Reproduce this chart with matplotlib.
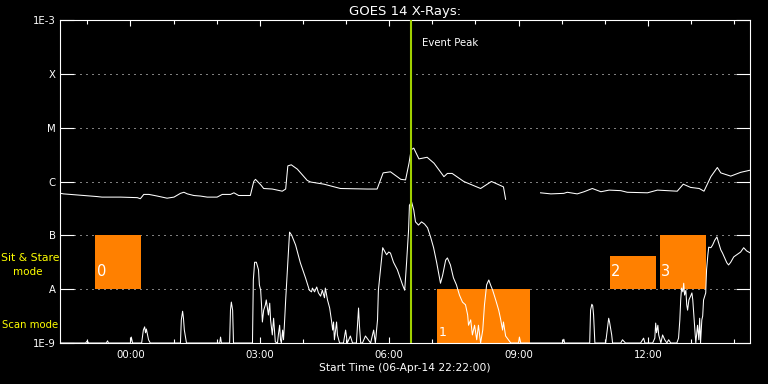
#!/usr/bin/env python3
"""GOES 14 X-ray light curves with IRIS observing-mode boxes."""

import numpy as np
import matplotlib

matplotlib.use("Agg")
import matplotlib.pyplot as plt
from matplotlib.patches import Rectangle

# hours after 00:00 on 07-Apr-14 (start time is 22:22 the day before)
t_start = -1.633
t_end = 14.367
event_peak = 6.51

# long channel (1-8 A), log10 flux; NaN = data gap
long_t = [-1.62, -1.55, -1.08, -0.77, -0.66, -0.23, 0.16, 0.23, 0.31, 0.43, 0.62, 0.85,
          1.01, 1.16, 1.24, 1.32, 1.47, 1.62, 1.78, 2.01, 2.13, 2.32, 2.40, 2.51, 2.78,
          2.86, 2.90, 3.02, 3.09, 3.29, 3.52, 3.60, 3.65, 3.73, 3.87, 4.10, 4.18, 4.49,
          4.87, 5.49, 5.72, 5.86, 6.03, 6.27, 6.38, 6.46, 6.51, 6.57, 6.69, 6.88, 7.04,
          7.27, 7.35, 7.46, 7.73, 8.12, 8.37, 8.43, 8.65, 8.70, 9.10,
          9.51, 9.75, 10.05, 10.13, 10.36, 10.52, 10.71, 10.91, 11.10, 11.37, 11.52,
          11.99, 12.22, 12.45, 12.68, 12.82, 12.99, 13.19, 13.30, 13.46, 13.61, 13.69,
          13.92, 14.15, 14.37]
long_logf = [-6.22, -6.23, -6.26, -6.28, -6.29, -6.29, -6.30, -6.32, -6.24, -6.24, -6.27, -6.31,
             -6.29, -6.22, -6.20, -6.23, -6.26, -6.27, -6.29, -6.29, -6.24, -6.24, -6.21, -6.26, -6.26,
             -6.00, -5.96, -6.06, -6.13, -6.14, -6.18, -6.14, -5.71, -5.69, -5.77, -5.98, -6.01, -6.05,
             -6.13, -6.14, -6.14, -5.84, -5.82, -5.96, -5.97, -5.66, -5.41, -5.38, -5.58, -5.55, -5.66,
             -5.91, -5.85, -5.85, -6.00, -6.13, -6.00, -6.02, -6.10, -6.33, np.nan,
             -6.21, -6.23, -6.22, -6.20, -6.23, -6.19, -6.13, -6.19, -6.16, -6.17, -6.20,
             -6.21, -6.16, -6.17, -6.18, -6.05, -6.11, -6.13, -6.18, -5.91, -5.74, -5.84,
             -5.90, -5.83, -5.79]

# short channel (0.5-4 A), log10 flux; -9 sits on the plot floor
short_t = [-1.62, -1.04, -1.00, -0.97, -0.56, -0.53, -0.51, 0.00, 0.02, 0.05, 0.26, 0.30, 0.33,
           0.35, 0.37, 0.42, 0.46, 0.70, 1.16, 1.18, 1.21, 1.23, 1.25, 1.30, 1.97, 2.07, 2.09,
           2.11, 2.30, 2.32, 2.34, 2.37, 2.39, 2.83, 2.85, 2.88, 2.92, 2.97, 2.99, 3.02, 3.04,
           3.06, 3.09, 3.13, 3.15, 3.20, 3.23, 3.25, 3.29, 3.32, 3.34, 3.36, 3.41, 3.43, 3.46,
           3.48, 3.50, 3.53, 3.55, 3.57, 3.60, 3.64, 3.69, 3.74, 3.83, 3.94, 4.06, 4.11, 4.15,
           4.20, 4.22, 4.27, 4.32, 4.36, 4.41, 4.45, 4.50, 4.52, 4.57, 4.62, 4.66, 4.69, 4.71,
           4.73, 4.78, 4.80, 4.85, 4.94, 4.99, 5.03, 5.10, 5.15, 5.24, 5.27, 5.29, 5.31, 5.34,
           5.38, 5.45, 5.57, 5.64, 5.68, 5.73, 5.75, 5.85, 5.94, 5.99, 6.03, 6.10, 6.19, 6.31,
           6.36, 6.40, 6.45, 6.47, 6.52, 6.57, 6.61, 6.68, 6.75, 6.82, 6.89, 6.96, 7.03, 7.10,
           7.19, 7.24, 7.31, 7.35, 7.42, 7.49, 7.56, 7.63, 7.70, 7.77, 7.82, 7.84, 7.89, 7.93,
           7.98, 8.03, 8.07, 8.12, 8.17, 8.21, 8.26, 8.31, 8.35, 8.40, 8.47, 8.54, 8.58, 8.63,
           8.65, 8.70, 8.82, 9.00, 9.02, 9.05, 10.02, 10.05, 10.07, 10.56, 10.65, 10.67, 10.70,
           10.72, 10.74, 10.77, 11.02, 11.07, 11.09, 11.11, 11.14, 11.16, 11.18, 11.37, 11.41,
           11.48, 11.83, 11.90, 11.93, 12.11, 12.16, 12.18, 12.20, 12.23, 12.25, 12.30, 12.34,
           12.39, 12.44, 12.48, 12.53, 12.67, 12.71, 12.74, 12.76, 12.78, 12.81, 12.83, 12.85,
           12.88, 12.90, 12.92, 12.95, 12.99, 13.02, 13.04, 13.09, 13.11, 13.15, 13.18, 13.20,
           13.22, 13.25, 13.27, 13.29, 13.34, 13.36, 13.39, 13.41, 13.46, 13.50, 13.55, 13.60,
           13.64, 13.69, 13.73, 13.78, 13.83, 13.87, 13.92, 13.99, 14.06, 14.15, 14.22, 14.29,
           14.38]
short_logf = [-9.00, -9.00, -8.96, -9.00, -9.00, -8.96, -9.00, -9.00, -8.89, -9.00, -9.00, -8.76, -8.70,
              -8.81, -8.74, -8.94, -9.00, -9.00, -9.00, -8.57, -8.41, -8.54, -8.76, -9.00, -9.00, -9.00, -8.89,
              -9.00, -9.00, -8.39, -8.24, -8.39, -9.00, -9.00, -7.83, -7.50, -7.50, -7.64, -7.92, -8.02, -8.29,
              -8.61, -8.39, -8.29, -8.20, -8.48, -8.26, -8.57, -8.85, -8.54, -8.76, -8.98, -9.00, -8.85, -8.67,
              -8.94, -9.00, -8.76, -8.94, -8.67, -8.20, -7.64, -6.94, -7.00, -7.18, -7.51, -7.79, -7.92, -8.02,
              -8.05, -7.98, -8.05, -7.96, -8.07, -8.13, -8.02, -8.16, -7.98, -8.20, -8.35, -8.57, -8.76, -8.61,
              -8.94, -8.61, -8.85, -9.00, -9.00, -8.76, -9.00, -8.87, -9.00, -9.00, -8.61, -8.35, -8.67, -9.00,
              -9.00, -8.87, -9.00, -8.76, -9.00, -8.57, -8.02, -7.23, -7.36, -7.31, -7.33, -7.50, -7.64, -7.92,
              -8.02, -7.55, -6.90, -6.44, -6.38, -6.53, -6.75, -6.81, -6.75, -6.79, -6.86, -7.03, -7.23, -7.50,
              -7.89, -7.74, -7.46, -7.42, -7.55, -7.79, -7.92, -8.11, -8.24, -8.29, -8.48, -8.67, -8.57, -8.85,
              -8.67, -8.94, -8.67, -9.00, -8.76, -8.29, -7.92, -7.83, -7.92, -8.02, -8.20, -8.39, -8.54, -8.76,
              -8.61, -8.87, -9.00, -9.00, -8.89, -9.00, -9.00, -8.93, -9.00, -9.00, -9.00, -8.39, -8.28,
              -8.31, -8.48, -9.00, -9.00, -8.67, -8.54, -8.61, -8.76, -8.85, -9.00, -9.00, -8.94,
              -9.00, -9.00, -8.91, -9.00, -9.00, -8.91, -8.63, -8.81, -8.67, -8.85, -9.00, -8.85,
              -8.94, -9.00, -8.94, -9.00, -9.00, -8.91, -8.57, -8.20, -7.98, -8.05, -7.89, -8.11,
              -8.02, -8.29, -8.39, -8.20, -8.13, -8.07, -8.20, -8.76, -9.00, -8.67, -8.94, -8.54,
              -9.00, -8.57, -8.50, -8.20, -8.07, -7.64, -7.36, -7.22, -7.23, -7.18, -7.09, -7.03,
              -7.14, -7.27, -7.33, -7.42, -7.51, -7.55, -7.50, -7.40, -7.36, -7.31, -7.23, -7.29,
              -7.33]

# IRIS observation boxes
box_labels = ["0", "1", "2", "3"]
box_start = [-0.81, 7.12, 11.11, 12.27]
box_end = [0.25, 9.26, 12.18, 13.34]
box_low = [1e-8, 1e-9, 1e-8, 1e-8]
box_high = [1e-7, 1e-8, 4.2e-8, 1e-7]
box_label_y = [2.15e-8, 1.55e-9, 2.1e-8, 2.1e-8]
box_label_size = [10.5, 9, 10.5, 10.5]

class_levels = [1e-9, 1e-8, 1e-7, 1e-6, 1e-5, 1e-4, 1e-3]
class_names = ["1E-9", "A", "B", "C", "M", "X", "1E-3"]
hour_ticks = [0, 3, 6, 9, 12]
hour_labels = ["00:00", "03:00", "06:00", "09:00", "12:00"]
minor_hours = [-1, 1, 2, 4, 5, 7, 8, 10, 11, 13, 14]

ORANGE = "#ff8000"
PEAK = "#a0d000"
YELLOW = "#ffff00"

plt.rcParams.update({
    "font.family": ["DejaVu Sans"],
    "font.size": 7,
    "text.color": "white",
    "axes.edgecolor": "white",
    "xtick.color": "white",
    "ytick.color": "white",
})

fig = plt.figure(figsize=(7.68, 3.84), dpi=100, facecolor="black")
ax = fig.add_axes([60 / 768, 41 / 384, 690 / 768, 323 / 384], facecolor="black")
ax.set_yscale("log")
ax.set_xlim(t_start, t_end)
ax.set_ylim(1e-9, 1e-3)

# dotted class lines between the inner tick marks
for lvl in class_levels[1:-1]:
    ax.axhline(lvl, xmin=0.021, xmax=0.979, color="white", lw=0.72, ls=(0, (1, 5)), zorder=1)

for s, e, lo, hi, lab, ly, fs in zip(box_start, box_end, box_low, box_high, box_labels,
                                     box_label_y, box_label_size):
    ax.add_patch(Rectangle((s, lo), e - s, hi - lo, facecolor=ORANGE, edgecolor="none", zorder=2))
    ax.text(s + 0.03, ly, lab, color="white", fontsize=fs, ha="left", va="center", zorder=5)

ax.plot(long_t, 10.0 ** np.array(long_logf), color="white", lw=0.75, zorder=3)
ax.plot(short_t, 10.0 ** np.array(short_logf), color="white", lw=0.75, zorder=3)

ax.axvline(event_peak, color=PEAK, lw=1.5, zorder=4)
ax.text(event_peak + 0.25, 10 ** -3.43, "Event Peak", color="white", fontsize=7.3, ha="left", va="center")

ax.set_yticks(class_levels)
ax.set_yticklabels(class_names)
ax.yaxis.set_minor_locator(matplotlib.ticker.NullLocator())
ax.tick_params(axis="y", which="major", direction="in", length=10, width=0.8, left=True, right=True,
               pad=3, labelsize=7.3)
ax.set_xticks(hour_ticks)
ax.set_xticklabels(hour_labels)
ax.set_xticks(minor_hours, minor=True)
ax.tick_params(axis="x", which="major", direction="in", length=4.5, width=0.8, top=True, bottom=True,
               pad=5, labelsize=7.3)
ax.tick_params(axis="x", which="minor", direction="in", length=3, width=0.8, top=True, bottom=True)
for sp in ax.spines.values():
    sp.set_color("white")
    sp.set_linewidth(0.8)

fig.text(405 / 768, 1 - 11 / 384, "GOES 14 X-Rays:", ha="center", va="center", fontsize=9.5)
fig.text(405 / 768, 1 - 368 / 384, "Start Time (06-Apr-14 22:22:00)", ha="center", va="center",
         fontsize=7.7)
fig.text(1 / 768, 1 - 258 / 384, "Sit & Stare", color=YELLOW, ha="left", va="center", fontsize=7.8)
fig.text(13 / 768, 1 - 272 / 384, "mode", color=YELLOW, ha="left", va="center", fontsize=7.5)
fig.text(2 / 768, 1 - 325 / 384, "Scan mode", color=YELLOW, ha="left", va="center", fontsize=7.3)

fig.savefig("out.png", dpi=100, facecolor="black")
